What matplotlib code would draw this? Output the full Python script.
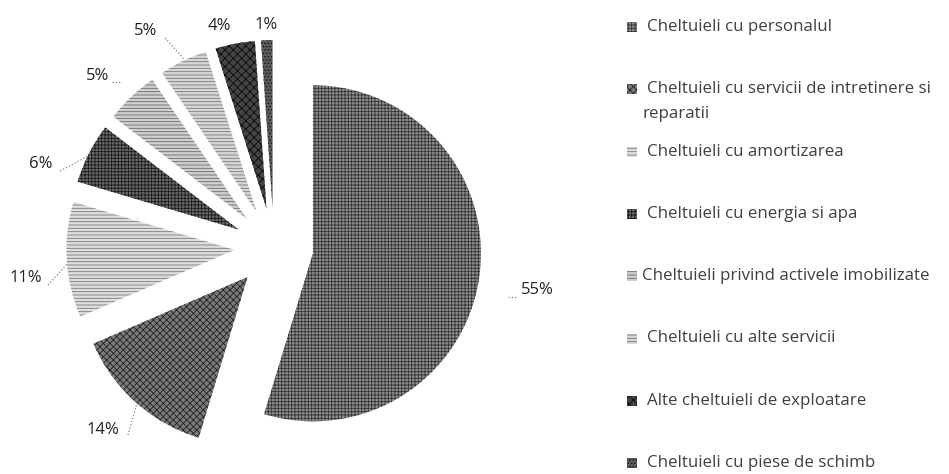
import matplotlib
matplotlib.use('Agg')
import matplotlib.pyplot as plt
from matplotlib.patches import Rectangle

W, H = 949, 474

# share of each cost category (percent), clockwise from 12 o'clock
categories = [
    'Cheltuieli cu personalul',
    'Cheltuieli cu servicii de intretinere si\nreparatii',
    'Cheltuieli cu amortizarea',
    'Cheltuieli cu energia si apa',
    'Cheltuieli privind activele imobilizate',
    'Cheltuieli cu alte servicii',
    'Alte cheltuieli de exploatare',
    'Cheltuieli cu piese de schimb',
]
shares = [54.7, 13.8, 11.1, 5.8, 5.1, 4.6, 3.8, 1.1]
pct_labels = ['{:.0f}%'.format(v) for v in shares]

# grayscale fills + hatch (hatch colour = edgecolor)
face = ['#8e8e8e', '#7a7a7a', '#dedede', '#6a6a6a', '#cfcfcf', '#d6d6d6', '#444444', '#5a5a5a']
hatch_col = ['#333333', '#222222', '#7a7a7a', '#1a1a1a', '#6a6a6a', '#7a7a7a', '#0a0a0a', '#151515']
hatches = ['+++++', 'xxxxx', '-----', '+++++', '-----', '-----', 'xxxx', '.....']

# label text centres and leader end points, in image pixels (top-left origin)
label_pos = [(537, 290), (103, 430), (26, 278), (41, 164), (98, 76), (146, 31), (219, 26), (266, 25)]
leaders = [((508, 297), (517, 297)), ((128, 435), (137, 403)), ((48, 285), (68, 263)),
           ((60, 171), (90, 155)), ((112, 82), (122, 82)), ((165, 38), (185, 60)), None, None]
# x where each legend text starts (Excel squeezed the long one)
legend_text_x = [647, 647, 647, 647, 642, 647, 647, 647]

plt.rcParams['font.family'] = ['Open Sans', 'DejaVu Sans']
plt.rcParams['hatch.linewidth'] = 0.6

fig = plt.figure(figsize=(W / 100, H / 100), dpi=100)
ax = fig.add_axes([0, 0, 1, 1])

cx, cy, r = 273.9, 247.5, 168.0
wedges, _ = ax.pie(shares, startangle=90, counterclock=False,
                   explode=[0.235] * len(shares), radius=1)
for w, fc, hc, h in zip(wedges, face, hatch_col, hatches):
    w.set_facecolor(fc)
    w.set_edgecolor(hc)
    w.set_hatch(h)
    w.set_linewidth(0)

ax.set_xlim(-cx / r, (W - cx) / r)
ax.set_ylim(-(H - cy) / r, cy / r)
ax.set_aspect('auto')
ax.axis('off')

for txt, (px, py), ld in zip(pct_labels, label_pos, leaders):
    fig.text(px / W, 1 - py / H, txt, ha='center', va='center',
             fontsize=12, color='#222222')
    if ld is not None:
        (x0, y0), (x1, y1) = ld
        fig.add_artist(plt.Line2D([x0 / W, x1 / W], [1 - y0 / H, 1 - y1 / H],
                                  transform=fig.transFigure, color='#808080',
                                  lw=0.9, ls=':'))

# legend drawn by hand: one row every 62.3 px, long label wraps below
for i, (name, fc, hc, h) in enumerate(zip(categories, face, hatch_col, hatches)):
    y = 27 + 62.3 * i
    fig.add_artist(Rectangle((627 / W, 1 - (y + 5) / H), 10 / W, 10 / H,
                             transform=fig.transFigure, facecolor=fc,
                             edgecolor=hc, hatch=h, lw=0))
    for k, line in enumerate(name.split('\n')):
        tx = legend_text_x[i] if k == 0 else 642
        fig.text(tx / W, 1 - (y + 25 * k) / H, line,
                 ha='left', va='center', fontsize=12.2, color='#404040')

fig.savefig('out.png', dpi=100)
